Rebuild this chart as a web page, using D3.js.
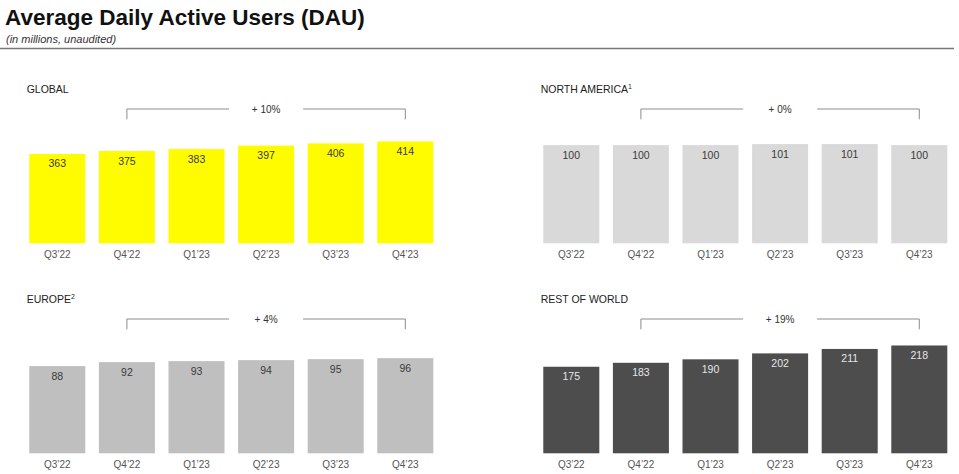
<!DOCTYPE html>
<html>
<head>
<meta charset="utf-8">
<script src="https://cdn.jsdelivr.net/npm/d3@7"></script>
<style>
  html, body { margin: 0; padding: 0; background: #fff; }
  svg { display: block; font-family: "Liberation Sans", Arial, sans-serif; }
</style>
</head>
<body>
<svg id="chart" width="959" height="474"></svg>
<script>
// ---- data ----
const quarters = ["Q3\u201922", "Q4\u201922", "Q1\u201923", "Q2\u201923", "Q3\u201923", "Q4\u201923"];
const globalDAU = [363, 375, 383, 397, 406, 414];
const northAmericaDAU = [100, 100, 100, 101, 101, 100];
const europeDAU = [88, 92, 93, 94, 95, 96];
const restOfWorldDAU = [175, 183, 190, 202, 211, 218];
const panelTitles = ["GLOBAL", "NORTH AMERICA", "EUROPE", "REST OF WORLD"];
const panelFootnotes = ["", "1", "2", ""];
const growthLabels = ["+ 10%", "+ 0%", "+ 4%", "+ 19%"];
const titleText = "Average Daily Active Users (DAU)";
const subtitleText = "(in millions, unaudited)";

// ---- layout / style ----
const svg = d3.select("#chart");
const panels = [
  { values: globalDAU,       left: 22.5,  base: 243.3, dmax: 447,   fill: "#FFFC00", label: "#3a3a3a" },
  { values: northAmericaDAU, left: 536.5, base: 243.3, dmax: 112,   fill: "#D9D9D9", label: "#3a3a3a" },
  { values: europeDAU,       left: 22.5,  base: 453.3, dmax: 111,   fill: "#BFBFBF", label: "#3a3a3a" },
  { values: restOfWorldDAU,  left: 536.5, base: 453.3, dmax: 222.4, fill: "#4D4D4D", label: "#e6e6e6" }
];
const step = 69.6, H = 110;

// title
svg.append("text").attr("x", 5).attr("y", 24.5)
  .attr("font-size", 22.5).attr("font-weight", "bold").attr("fill", "#111")
  .text(titleText);
svg.append("text").attr("x", 6).attr("y", 42.5)
  .attr("font-size", 11).attr("font-style", "italic").attr("fill", "#333")
  .text(subtitleText);
svg.append("line").attr("x1", 0).attr("x2", 954).attr("y1", 48.5).attr("y2", 48.5)
  .attr("stroke", "#777").attr("stroke-width", 1.6);

panels.forEach((p, i) => {
  const x = d3.scaleBand().domain(quarters)
    .range([p.left, p.left + 6 * step])
    .paddingInner(0.195).paddingOuter(0.0975);
  const y = d3.scaleLinear().domain([0, p.dmax]).range([p.base, p.base - H]);
  const g = svg.append("g");

  // panel title
  const t = g.append("text").attr("x", p.left + 4.2).attr("y", p.base - 150.5)
    .attr("font-size", 10.5).attr("fill", "#222").text(panelTitles[i]);
  if (panelFootnotes[i]) {
    t.append("tspan").attr("dy", -4).attr("font-size", 7).text(panelFootnotes[i]);
  }

  // bars
  g.selectAll("rect").data(p.values).join("rect")
    .attr("x", (d, j) => x(quarters[j]))
    .attr("width", x.bandwidth())
    .attr("y", d => y(d))
    .attr("height", d => p.base - y(d))
    .attr("fill", p.fill);

  // value labels
  g.selectAll("text.val").data(p.values).join("text").attr("class", "val")
    .attr("x", (d, j) => x(quarters[j]) + x.bandwidth() / 2)
    .attr("y", d => y(d) + 13.5)
    .attr("text-anchor", "middle").attr("font-size", 10.5)
    .attr("fill", p.label).text(d => d);

  // category axis labels
  const axis = d3.axisBottom(x).tickSize(0).tickPadding(0);
  const ax = g.append("g").attr("transform", `translate(0,${p.base + 15})`).call(axis);
  ax.select(".domain").remove();
  ax.selectAll("text").attr("font-size", 10).attr("fill", "#555")
    .attr("dy", 0).attr("font-family", "Liberation Sans, Arial, sans-serif");

  // growth bracket
  const x1 = x(quarters[1]) + x.bandwidth() / 2;
  const x2 = x(quarters[5]) + x.bandwidth() / 2;
  const by = p.base - 134.3;
  const mid = (x1 + x2) / 2;
  const gap = 37;
  const br = g.append("g").attr("fill", "none").attr("stroke", "#8c8c8c").attr("stroke-width", 1);
  br.append("path").attr("d", `M${x1},${by + 10.3}V${by}H${mid - gap}`);
  br.append("path").attr("d", `M${mid + gap},${by}H${x2}V${by + 10.3}`);
  g.append("text").attr("x", mid).attr("y", by + 3.5)
    .attr("text-anchor", "middle").attr("font-size", 10).attr("fill", "#333")
    .text(growthLabels[i]);
});
</script>
</body>
</html>
